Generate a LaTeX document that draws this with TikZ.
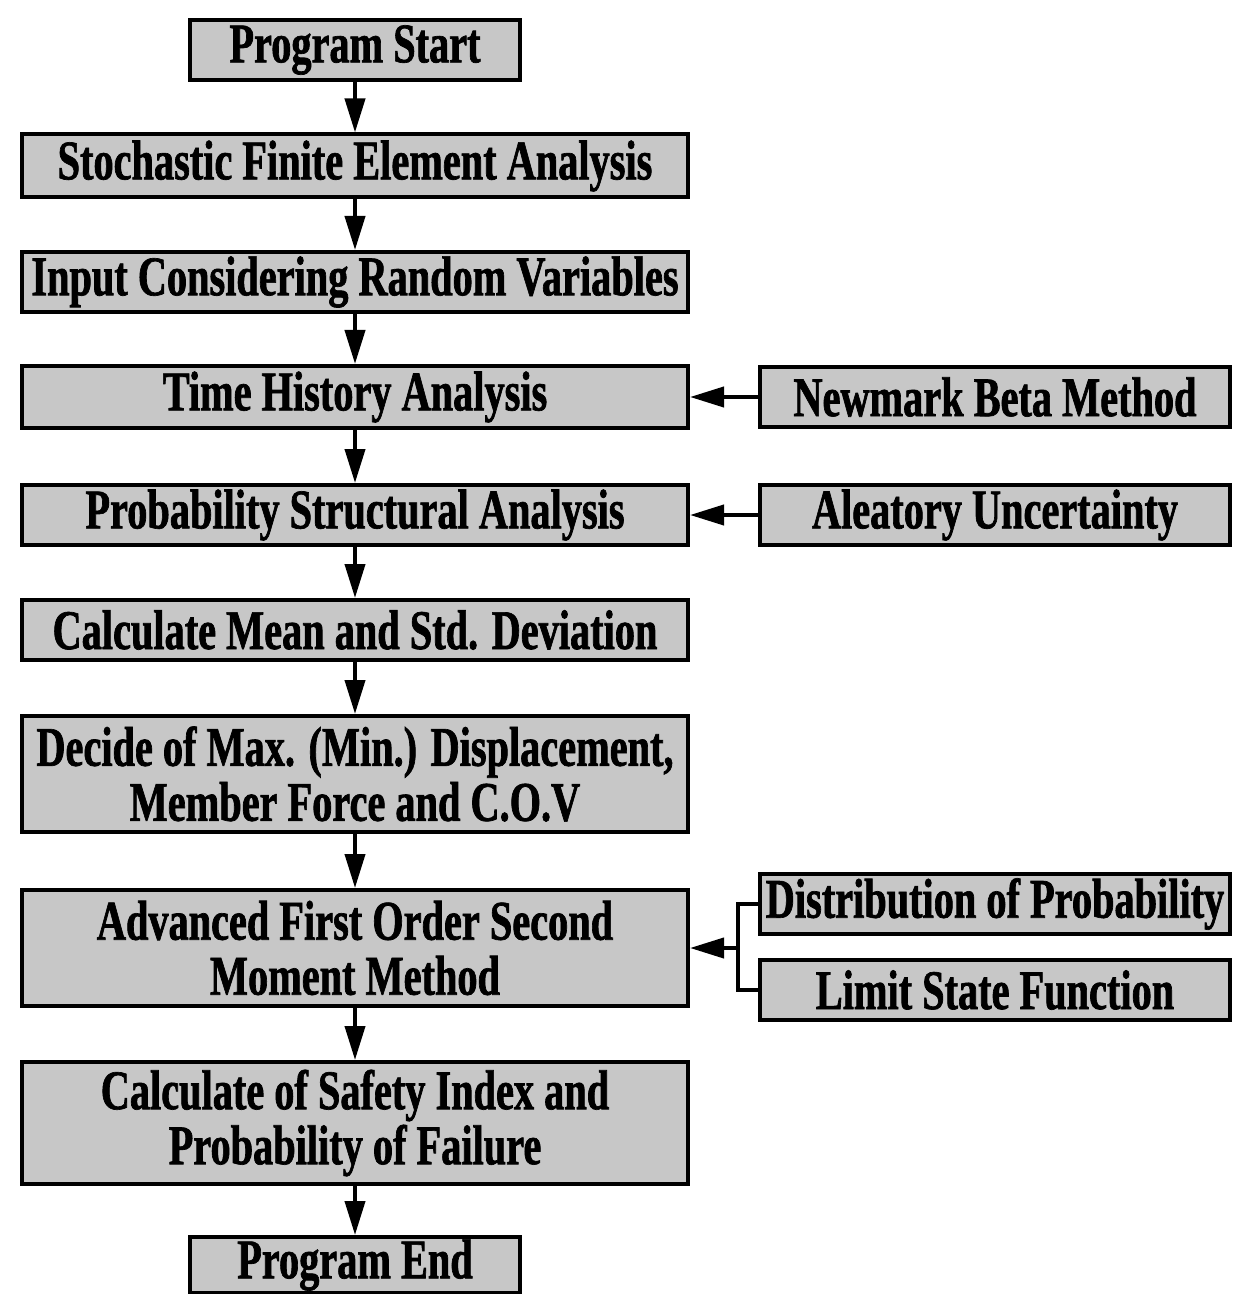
\documentclass[tikz,border=0pt]{standalone}
\usepackage{fontspec}
\setmainfont{Liberation Serif}[FakeStretch=0.72, BoldFeatures={FakeBold=1.2}]
\usetikzlibrary{arrows.meta}
\begin{document}
\begin{tikzpicture}[x=0.5pt,y=-0.5pt,
  box/.style={draw=black, line width=2pt, fill=black!22, text=black,
    font=\bfseries\fontsize{28}{27.5}\selectfont, align=center, inner sep=0pt,
    minimum width=333pt, minimum height=#1},
  box/.default=30pt,
  small/.style={box, minimum width=165pt},
  side/.style={box, minimum width=235pt},
  arr/.style={line width=2pt, -{Triangle[length=17pt,width=10pt]}},
  ln/.style={line width=2pt}
]
\useasboundingbox (0,0) rectangle (1243,1294);
\node[small] (start) at (355,50) {Program Start};
\node[box=31.5pt] (sfe) at (355,166) {Stochastic Finite Element Analysis};
\node[box] (inp) at (355,282) {Input Considering Random Variables};
\node[box=31pt] (tha) at (355,397) {Time History Analysis};
\node[box] (psa) at (355,515) {Probability Structural Analysis};
\node[box] (mean) at (355,630) {Calculate Mean and Std. Deviation};
\node[box=58pt] (dec) at (355,774) {Decide of Max. (Min.) Displacement,\\Member Force and C.O.V};
\node[box=58pt] (afo) at (355,948) {Advanced First Order Second\\Moment Method};
\node[box=61pt] (saf) at (355,1123) {Calculate of Safety Index and\\Probability of Failure};
\node[small, minimum height=28pt] (end) at (355,1265) {Program End};

\node[side=31pt] (nbm) at (995,397) {Newmark Beta Method};
\node[side] (ale) at (995,515) {Aleatory Uncertainty};
\node[side=31pt] (dist) at (995,904) {Distribution of Probability};
\node[side] (lsf) at (995,990) {Limit State Function};

\draw[arr] (start) -- (sfe);
\draw[arr] (sfe) -- (inp);
\draw[arr] (inp) -- (tha);
\draw[arr] (tha) -- (psa);
\draw[arr] (psa) -- (mean);
\draw[arr] (mean) -- (dec);
\draw[arr] (dec) -- (afo);
\draw[arr] (afo) -- (saf);
\draw[arr] (saf) -- (end);
\draw[arr] (nbm) -- (tha);
\draw[arr] (ale) -- (psa);
\coordinate (fk) at (738,948);
\draw[ln] (dist.west) -| (fk) |- (lsf.west);
\draw[arr] (fk) -- (afo.east);
\end{tikzpicture}
\end{document}
